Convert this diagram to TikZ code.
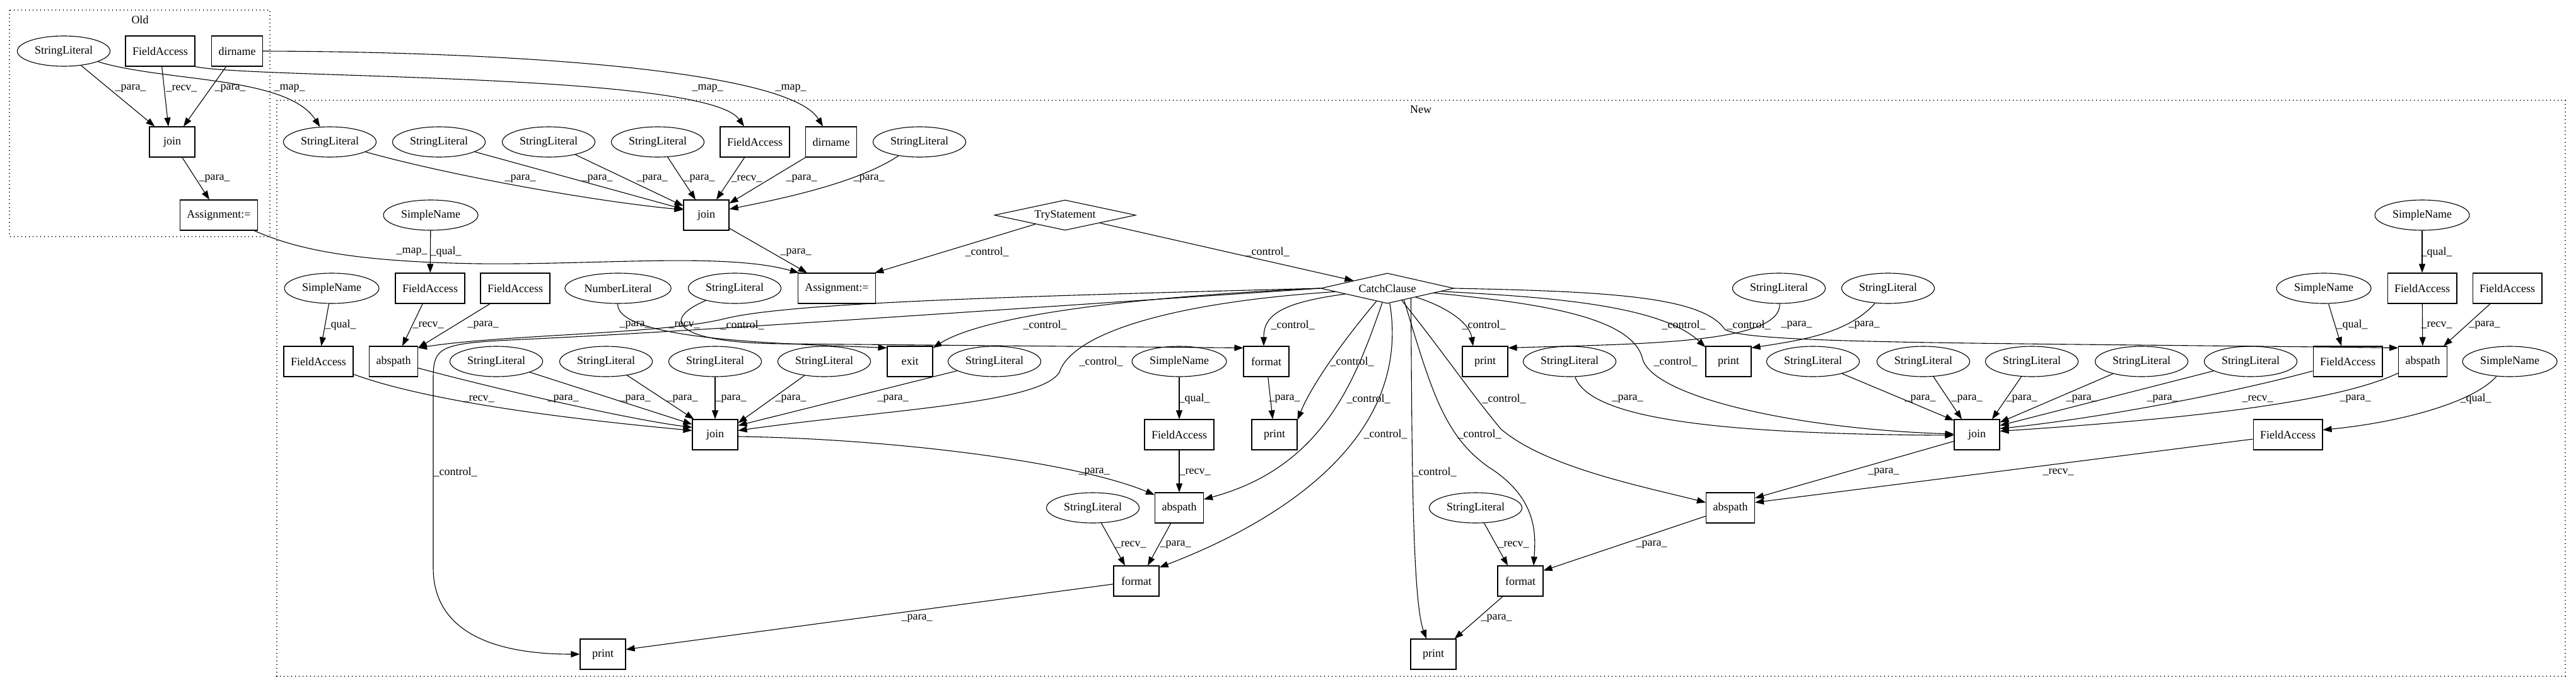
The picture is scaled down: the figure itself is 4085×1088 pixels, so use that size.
\documentclass[tikz,border=0pt]{standalone}
\usepackage{fontspec}
\setmainfont{Liberation Serif}
\usetikzlibrary{shapes.geometric,arrows.meta}
\newcommand{\gvsize}{\fontsize{18}{21}\selectfont}

\begin{document}
\begin{tikzpicture}[x=1pt,y=-1pt,
  every node/.style={font=\gvsize},
  lit/.style={draw,ellipse,line width=1.1pt,inner xsep=6pt,minimum height=48pt},
  op/.style={draw,rectangle,line width=1.1pt,inner xsep=11pt,minimum width=72pt,minimum height=48pt},
  stmt/.style={draw,diamond,line width=1.1pt,aspect=4.5,inner sep=0pt,minimum height=48pt},
  link/.style={-{Triangle[length=14pt,width=10pt]},line width=1.1pt},
  lbl/.style={inner sep=0pt},
  cluster/.style={line width=1.2pt,dash pattern=on 1.2pt off 4.8pt}]

\useasboundingbox (0,0) rectangle (4085,1088);

% clusters
\draw[cluster] (15,16) rectangle (428,375);
\draw[cluster] (439,159) rectangle (4068,1072);
\node (oldtitle) at (222,31) {Old};
\node (newtitle) at (2253,174) {New};

% old
\node[lit] (oS) at (101,81) {StringLiteral};
\node[op] (oF) at (254,81) {FieldAccess};
\node[op] (oD) at (376,81) {dirname};
\node[op] (oJ) at (273,225) {join};
\node[op] (oA) at (347,341) {Assignment:=};

% new
\foreach \n/\x/\y in {1/523/225,2/696/225,3/870/225,4/1043/225,5/1458/225,
    6/1165/457,7/2821/457,8/2994/457,
    9/787/573,10/961/573,11/1134/573,12/1307/573,13/1577/573,14/2489/573,
    15/2875/573,16/3050/573,17/3222/573,18/3396/573,19/3569/573,
    20/1733/805,21/2340/805}
  \node[lit] (s\n) at (\x,\y) {StringLiteral};
\foreach \n/\x/\y in {1/683/341,2/526/457,3/3685/457,4/3841/341,5/1870/573,6/3980/573}
  \node[lit] (n\n) at (\x,\y) {SimpleName};
\foreach \n/\x/\y in {1/1197/225,2/682/457,3/817/457,4/3841/457,5/3976/457,
    6/505/573,7/3723/573,8/1870/689,9/3628/689}
  \node[op] (f\n) at (\x,\y) {FieldAccess};
\foreach \n/\x/\y in {1/624/573,2/3842/573,3/1870/805,4/2744/805}
  \node[op] (ab\n) at (\x,\y) {abspath};
\foreach \n/\x/\y in {1/2008/573,2/1802/921,3/2411/921}
  \node[op] (fm\n) at (\x,\y) {format};
\foreach \n/\x/\y in {1/2355/573,2/2741/573,3/2021/689,4/2273/1037,5/956/1037}
  \node[op] (pr\n) at (\x,\y) {print};
\foreach \n/\x/\y in {1/1120/341,2/1134/689,3/3135/689}
  \node[op] (j\n) at (\x,\y) {join};
\node[op] (dir) at (1318,225) {dirname};
\node[op] (asg) at (1327,457) {Assignment:=};
\node[op] (exit) at (1443,573) {exit};
\node[lit] (num) at (980,457) {NumberLiteral};
\node[stmt,minimum width=224pt] (try) at (1689,341) {TryStatement};
\node[stmt,minimum width=211pt] (catch) at (2200,457) {CatchClause};

% old edges
\draw[link] (oS) -- ([xshift=9pt]oJ.north west) node[lbl] at (207,140) {\_para\_};
\draw[link] (oF) -- ([xshift=-6pt]oJ.north) node[lbl] at (288,140) {\_recv\_};
\draw[link] (oD) -- ([xshift=18pt]oJ.north) node[lbl] at (365,140) {\_para\_};
\draw[link] (oJ) -- ([xshift=-15pt]oA.north) node[lbl] at (340,283) {\_para\_};

% map edges
\draw[link] (oS) .. controls (260,130) and (455,120) .. (s1) node[lbl] at (459,140) {\_map\_};
\draw[link] (oF.south east) .. controls (400,125) and (1120,115) .. ([xshift=-17pt]f1.north) node[lbl] at (1122,140) {\_map\_};
\draw[link] (oD.east) .. controls (800,82) and (1250,110) .. ([xshift=-13pt]dir.north) node[lbl] at (1254,140) {\_map\_};
\draw[link] (oA) .. controls (470,395) and (560,415) .. (760,418) .. controls (950,420) and (1150,400) .. ([xshift=2pt]asg.north west) node[lbl] at (653,399) {\_map\_};

% first join
\draw[link] (s1) .. controls (720,280) and (950,320) .. ([yshift=-16pt]j1.north west) node[lbl] at (825,283) {\_para\_};
\draw[link] (s2) -- ([yshift=-15pt]j1.north west) node[lbl] at (947,283) {\_para\_};
\draw[link] (s3) -- ([yshift=-10pt]j1.north west) node[lbl] at (1034,283) {\_para\_};
\draw[link] (s4) -- ([xshift=-17pt]j1.north) node[lbl] at (1109,283) {\_para\_};
\draw[link] (f1) -- ([xshift=16pt]j1.north) node[lbl] at (1184,283) {\_recv\_};
\draw[link] (dir) -- ([yshift=-6pt]j1.north east) node[lbl] at (1271,283) {\_para\_};
\draw[link] (s5) .. controls (1360,290) and (1240,315) .. ([yshift=-15pt]j1.north east) node[lbl] at (1378,283) {\_para\_};
\draw[link] (j1) -- ([xshift=15pt]asg.north west) node[lbl] at (1262,400) {\_para\_};
\draw[link] (try) -- ([xshift=-2pt]asg.north east) node[lbl] at (1565,399) {\_control\_};
\draw[link] (try) -- (catch) node[lbl] at (2010,399) {\_control\_};
\draw[link] (n1) -- (f2) node[lbl] at (707,399) {\_qual\_};

% left part
\draw[link] (n2) -- (f6) node[lbl] at (540,515) {\_qual\_};
\draw[link] (f2) -- ([xshift=14pt]ab1.north) node[lbl] at (679,515) {\_recv\_};
\draw[link] (f3) -- ([yshift=-3pt]ab1.north east) node[lbl] at (766,515) {\_para\_};
\draw[link] (num) .. controls (978,540) and (1250,545) .. ([yshift=-3pt]exit.north west) node[lbl] at (1007,515) {\_para\_};
\draw[link] (s6) .. controls (1040,510) and (1080,545) .. (1250,545) -- ([yshift=-3pt]fm1.north west) node[lbl] at (1085,515) {\_recv\_};
\draw[link] (s13) -- ([yshift=-10pt]j2.north east) node[lbl] at (1416,632) {\_para\_};
\draw[link] (s12) -- ([yshift=-6pt]j2.north east) node[lbl] at (1254,632) {\_para\_};
\draw[link] (s11) -- (j2) node[lbl] at (1159,632) {\_para\_};
\draw[link] (s10) -- ([xshift=3pt]j2.north west) node[lbl] at (1082,632) {\_para\_};
\draw[link] (s9) -- ([yshift=-8pt]j2.north west) node[lbl] at (1007,632) {\_para\_};
\draw[link] (ab1) .. controls (800,620) and (1000,665) .. ([yshift=-13pt]j2.north west) node[lbl] at (893,632) {\_para\_};
\draw[link] (f6) .. controls (620,615) and (750,650) .. ([yshift=-18pt]j2.north west) node[lbl] at (759,632) {\_recv\_};
\draw[link] ([yshift=-3pt]j2.east) .. controls (1400,695) and (1700,730) .. ([yshift=-4pt]ab3.north west) node[lbl] at (1735,748) {\_para\_};
\draw[link] (n5) -- (f8) node[lbl] at (1894,632) {\_qual\_};
\draw[link] (f8) -- (ab3) node[lbl] at (1895,748) {\_recv\_};
\draw[link] (fm1) -- (pr3) node[lbl] at (2037,632) {\_para\_};
\draw[link] (s20) -- ([xshift=-18pt]fm2.north) node[lbl] at (1793,863) {\_recv\_};
\draw[link] (ab3) -- ([xshift=18pt]fm2.north) node[lbl] at (1864,863) {\_para\_};
\draw[link] (fm2) -- ([yshift=-17pt]pr5.north east) node[lbl] at (1454,980) {\_para\_};

% control from the catch clause
\draw[link] (catch.west) .. controls (1600,470) and (1250,480) .. (1150,505) .. controls (1050,530) and (800,530) .. ([yshift=-3pt]ab1.north east) node[lbl] at (1177,515) {\_control\_};
\draw[link] (catch.west) .. controls (1600,490) and (1100,525) .. (850,537) .. controls (700,544) and (687,545) .. (687,600) -- (687,900) .. controls (687,1000) and (780,1037) .. (pr5.west) node[lbl] at (722,748) {\_control\_};
\draw[link] (catch.west) .. controls (1800,470) and (1560,500) .. ([yshift=-3pt]exit.north east) node[lbl] at (1657,515) {\_control\_};
\draw[link] (catch) .. controls (2030,480) and (2004,500) .. ([xshift=-4pt]fm1.north) node[lbl] at (2050,515) {\_control\_};
\draw[link] (catch) .. controls (2290,485) and (2330,510) .. ([xshift=-19pt]pr1.north) node[lbl] at (2353,515) {\_control\_};
\draw[link] (catch) .. controls (2430,470) and (2630,480) .. ([yshift=-2pt]pr2.north west) node[lbl] at (2670,515) {\_control\_};
\draw[link] (catch.east) .. controls (2550,462) and (2700,470) .. (2735,522) .. controls (2770,545) and (3100,543) .. ([yshift=-3pt]ab2.north west) node[lbl] at (2773,515) {\_control\_};
\draw[link] (catch) .. controls (1850,480) and (1700,530) .. (1680,590) .. controls (1650,640) and (1400,650) .. ([yshift=-18pt]j2.north east) node[lbl] at (1746,573) {\_control\_};
\draw[link] (catch) .. controls (2130,540) and (2080,610) .. ([yshift=-1pt]pr3.north east) node[lbl] at (2144,573) {\_control\_};
\draw[link] (catch) .. controls (2430,480) and (2590,500) .. (2605,570) .. controls (2625,630) and (2850,680) .. ([yshift=1pt]j3.west) node[lbl] at (2657,573) {\_control\_};
\draw[link] (catch) .. controls (2150,600) and (2100,740) .. ([yshift=-11pt]ab3.north east) node[lbl] at (2170,632) {\_control\_};
\draw[link] (catch) .. controls (2240,700) and (2020,830) .. ([yshift=-3pt]fm2.north east) node[lbl] at (2197,688) {\_control\_};
\draw[link] (catch.-23) .. controls (2239,700) and (2239,950) .. ([xshift=-11pt]pr4.north) node[lbl] at (2275,748) {\_control\_};
\draw[link] (catch.-35) .. controls (2270,620) and (2290,690) .. (2360,740) .. controls (2440,790) and (2435,850) .. ([xshift=21pt]fm3.north) node[lbl] at (2346,688) {\_control\_};
\draw[link] (catch.-40) .. controls (2290,560) and (2330,620) .. (2380,680) .. controls (2450,740) and (2600,770) .. ([yshift=-16pt]ab4.north west) node[lbl] at (2385,632) {\_control\_};

% right part
\draw[link] (s7) .. controls (2825,545) and (2600,545) .. ([yshift=-3pt]pr1.north east) node[lbl] at (2849,515) {\_para\_};
\draw[link] (s8) .. controls (2930,530) and (2850,540) .. ([yshift=-3pt]pr2.north east) node[lbl] at (2956,515) {\_para\_};
\draw[link] (s14) .. controls (2520,660) and (2700,688) .. ([yshift=-1pt]j3.west) node[lbl] at (2581,632) {\_para\_};
\draw[link] (s15) -- ([yshift=-2pt]j3.north west) node[lbl] at (3045,632) {\_para\_};
\draw[link] (s16) -- ([xshift=-24pt]j3.north) node[lbl] at (3119,632) {\_para\_};
\draw[link] (s17) -- ([xshift=24pt]j3.north) node[lbl] at (3206,632) {\_para\_};
\draw[link] (s18) -- ([yshift=-5pt]j3.north east) node[lbl] at (3301,632) {\_para\_};
\draw[link] (s19) -- ([yshift=-10pt]j3.north east) node[lbl] at (3429,632) {\_para\_};
\draw[link] (f7) .. controls (3550,620) and (3350,660) .. ([yshift=-15pt]j3.north east) node[lbl] at (3580,632) {\_recv\_};
\draw[link] (ab2) .. controls (3700,640) and (3450,665) .. ([yshift=-19pt]j3.north east) node[lbl] at (3735,632) {\_para\_};
\draw[link] (n3) -- ([xshift=-10pt]f7.north) node[lbl] at (3730,515) {\_qual\_};
\draw[link] (n4) -- (f4) node[lbl] at (3864,400) {\_qual\_};
\draw[link] (f4) -- (ab2) node[lbl] at (3864,515) {\_recv\_};
\draw[link] (f5) -- ([xshift=-6pt]ab2.north east) node[lbl] at (3940,515) {\_para\_};
\draw[link] (n6) .. controls (3920,640) and (3800,670) .. ([yshift=-17pt]f9.north east) node[lbl] at (3926,632) {\_qual\_};
\draw[link] (j3) -- ([yshift=-9pt]ab4.north east) node[lbl] at (2987,748) {\_para\_};
\draw[link] (f9) -- ([yshift=-16pt]ab4.north east) node[lbl] at (3264,748) {\_recv\_};
\draw[link] (s21) -- ([xshift=-20pt]fm3.north) node[lbl] at (2400,863) {\_recv\_};
\draw[link] (ab4) -- ([yshift=-8pt]fm3.north east) node[lbl] at (2619,863) {\_para\_};
\draw[link] (fm3) -- ([xshift=-3pt]pr4.north east) node[lbl] at (2373,980) {\_para\_};
\end{tikzpicture}
\end{document}
